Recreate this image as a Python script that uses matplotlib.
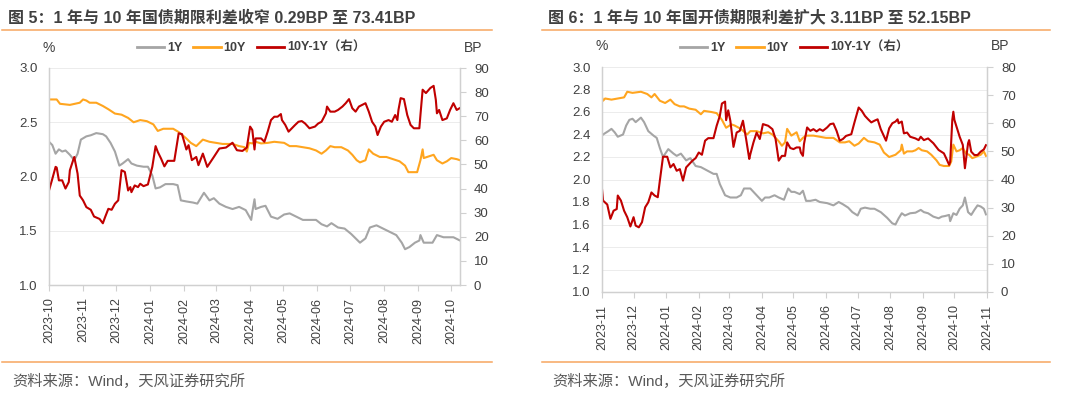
import matplotlib
matplotlib.use("Agg")
import matplotlib.pyplot as plt
import matplotlib.dates as mdates
from matplotlib.lines import Line2D
import pandas as pd

plt.rcParams['font.family'] = ['Liberation Sans', 'Noto Sans CJK SC', 'DejaVu Sans']

# ---------- left panel: 国债 ----------
l_title = "图 5：1 年与 10 年国债期限利差收窄 0.29BP 至 73.41BP"

l_10y_dates = ["2023-10-01", "2023-10-08", "2023-10-11", "2023-10-20", "2023-10-29", "2023-11-01", "2023-11-04",
               "2023-11-07", "2023-11-13", "2023-11-19", "2023-11-24", "2023-11-30", "2023-12-06", "2023-12-12",
               "2023-12-17", "2023-12-23", "2023-12-29", "2024-01-04", "2024-01-08", "2024-01-13", "2024-01-22",
               "2024-01-27", "2024-02-03", "2024-02-07", "2024-02-12", "2024-02-18", "2024-02-24", "2024-03-01",
               "2024-03-07", "2024-03-16", "2024-03-22", "2024-03-27", "2024-03-29", "2024-03-31", "2024-04-03",
               "2024-04-06", "2024-04-11", "2024-04-17", "2024-04-23", "2024-05-02", "2024-05-07", "2024-05-13",
               "2024-05-19", "2024-05-25", "2024-05-31", "2024-06-05", "2024-06-09", "2024-06-13", "2024-06-17",
               "2024-06-23", "2024-06-29", "2024-07-03", "2024-07-07", "2024-07-10", "2024-07-15", "2024-07-18",
               "2024-07-22", "2024-07-28", "2024-08-03", "2024-08-09", "2024-08-15", "2024-08-20", "2024-08-23",
               "2024-08-31", "2024-09-03", "2024-09-05", "2024-09-06", "2024-09-09", "2024-09-15", "2024-09-18",
               "2024-09-23", "2024-09-27", "2024-10-01", "2024-10-06", "2024-10-09"]
l_10y_vals = [2.71, 2.71, 2.67, 2.66, 2.68, 2.71, 2.70,
              2.68, 2.68, 2.65, 2.62, 2.58, 2.57, 2.54,
              2.50, 2.52, 2.51, 2.48, 2.42, 2.44, 2.44,
              2.41, 2.35, 2.31, 2.28, 2.34, 2.32, 2.31,
              2.30, 2.30, 2.28, 2.27, 2.23, 2.31, 2.305,
              2.32, 2.305, 2.31, 2.32, 2.31, 2.28, 2.28,
              2.27, 2.26, 2.24, 2.21, 2.24, 2.28, 2.27,
              2.27, 2.24, 2.20, 2.15, 2.13, 2.15, 2.25,
              2.21, 2.18, 2.18, 2.16, 2.14, 2.10, 2.04,
              2.04, 2.15, 2.25, 2.17, 2.18, 2.20, 2.15,
              2.12, 2.14, 2.17, 2.16, 2.15]

l_1y_dates = ["2023-10-01", "2023-10-04", "2023-10-07", "2023-10-10", "2023-10-13", "2023-10-16", "2023-10-20",
              "2023-10-24", "2023-10-27", "2023-10-30", "2023-11-04", "2023-11-08", "2023-11-13", "2023-11-19",
              "2023-11-22", "2023-11-26", "2023-11-30", "2023-12-04", "2023-12-07", "2023-12-12", "2023-12-15",
              "2023-12-20", "2023-12-26", "2023-12-30", "2024-01-03", "2024-01-06", "2024-01-10", "2024-01-15",
              "2024-01-22", "2024-01-26", "2024-01-29", "2024-02-03", "2024-02-09", "2024-02-13", "2024-02-19",
              "2024-02-24", "2024-02-28", "2024-03-04", "2024-03-10", "2024-03-16", "2024-03-22", "2024-03-28",
              "2024-04-02", "2024-04-03", "2024-04-05", "2024-04-06", "2024-04-11", "2024-04-15", "2024-04-20",
              "2024-04-26", "2024-05-02", "2024-05-07", "2024-05-13", "2024-05-19", "2024-05-25", "2024-05-31",
              "2024-06-05", "2024-06-10", "2024-06-14", "2024-06-20", "2024-06-26", "2024-07-02", "2024-07-06",
              "2024-07-10", "2024-07-15", "2024-07-19", "2024-07-25", "2024-07-31", "2024-08-06", "2024-08-12",
              "2024-08-17", "2024-08-20", "2024-08-24", "2024-08-29", "2024-09-02", "2024-09-03", "2024-09-06",
              "2024-09-14", "2024-09-18", "2024-09-24", "2024-09-29", "2024-10-03", "2024-10-09"]
l_1y_vals = [2.32, 2.29, 2.21, 2.25, 2.23, 2.24, 2.20,
             2.15, 2.21, 2.34, 2.37, 2.38, 2.40, 2.39,
             2.37, 2.31, 2.23, 2.10, 2.12, 2.16, 2.12,
             2.10, 2.09, 2.09, 2.01, 1.89, 1.90, 1.93,
             1.93, 1.92, 1.78, 1.77, 1.76, 1.75, 1.85,
             1.78, 1.80, 1.75, 1.72, 1.70, 1.72, 1.69,
             1.60, 1.67, 1.79, 1.70, 1.72, 1.73, 1.63,
             1.61, 1.65, 1.66, 1.63, 1.60, 1.60, 1.60,
             1.56, 1.54, 1.57, 1.53, 1.52, 1.47, 1.43,
             1.39, 1.43, 1.53, 1.55, 1.52, 1.49, 1.46,
             1.39, 1.33, 1.35, 1.39, 1.41, 1.46, 1.39,
             1.39, 1.46, 1.44, 1.44, 1.44, 1.41]

l_sp_dates = ["2023-10-01", "2023-10-04", "2023-10-07", "2023-10-08", "2023-10-10", "2023-10-13", "2023-10-16",
              "2023-10-19", "2023-10-20", "2023-10-23", "2023-10-24", "2023-10-27", "2023-10-29", "2023-11-01",
              "2023-11-04", "2023-11-08", "2023-11-11", "2023-11-16", "2023-11-19", "2023-11-21", "2023-11-24",
              "2023-11-27", "2023-11-30", "2023-12-03", "2023-12-06", "2023-12-09", "2023-12-12", "2023-12-14",
              "2023-12-15", "2023-12-18", "2023-12-21", "2023-12-23", "2023-12-26", "2023-12-30", "2024-01-03",
              "2024-01-06", "2024-01-08", "2024-01-11", "2024-01-14", "2024-01-17", "2024-01-23", "2024-01-27",
              "2024-01-30", "2024-02-03", "2024-02-05", "2024-02-08", "2024-02-12", "2024-02-14", "2024-02-18",
              "2024-02-22", "2024-02-28", "2024-03-04", "2024-03-10", "2024-03-16", "2024-03-20", "2024-03-25",
              "2024-03-29", "2024-04-01", "2024-04-03", "2024-04-05", "2024-04-06", "2024-04-11", "2024-04-14",
              "2024-04-17", "2024-04-20", "2024-04-23", "2024-04-26", "2024-04-29", "2024-04-30", "2024-05-03",
              "2024-05-06", "2024-05-09", "2024-05-12", "2024-05-15", "2024-05-18", "2024-05-21", "2024-05-25",
              "2024-05-30", "2024-06-02", "2024-06-05", "2024-06-09", "2024-06-10", "2024-06-13", "2024-06-17",
              "2024-06-20", "2024-06-24", "2024-06-27", "2024-06-30", "2024-07-03", "2024-07-06", "2024-07-09",
              "2024-07-12", "2024-07-15", "2024-07-18", "2024-07-21", "2024-07-24", "2024-07-26", "2024-07-29",
              "2024-08-01", "2024-08-05", "2024-08-08", "2024-08-11", "2024-08-13", "2024-08-14", "2024-08-16",
              "2024-08-19", "2024-08-22", "2024-08-25", "2024-08-28", "2024-09-02", "2024-09-03", "2024-09-05",
              "2024-09-08", "2024-09-12", "2024-09-15", "2024-09-17", "2024-09-18", "2024-09-20", "2024-09-23",
              "2024-09-27", "2024-09-30", "2024-10-03", "2024-10-06", "2024-10-09"]
l_sp_vals = [39.2, 44.0, 49.0, 48.7, 43.4, 43.4, 40.0,
             42.7, 47.6, 51.8, 53.1, 46.2, 37.1, 35.1,
             32.3, 31.2, 28.4, 27.4, 25.6, 28.1, 31.6,
             31.2, 33.7, 35.1, 47.6, 46.9, 39.2, 40.6,
             38.5, 41.3, 40.6, 42.0, 41.0, 41.7, 49.0,
             57.6, 55.2, 52.4, 49.2, 51.5, 51.5, 62.9,
             62.6, 56.2, 58.0, 51.8, 53.1, 49.7, 54.5,
             49.0, 53.1, 56.6, 57.0, 59.0, 55.9, 55.6,
             57.0, 65.7, 64.3, 56.2, 60.8, 60.8, 59.4,
             63.6, 68.4, 69.8, 69.8, 70.9, 68.4, 66.4,
             63.6, 65.0, 66.4, 67.7, 68.0, 67.0, 65.0,
             65.7, 67.0, 67.7, 71.2, 74.0, 71.9, 71.9,
             72.6, 74.0, 75.4, 77.1, 73.3, 71.9, 74.0,
             74.7, 75.4, 71.9, 67.7, 65.7, 62.2, 65.7,
             67.7, 68.4, 67.7, 70.5, 68.4, 72.6, 77.5,
             77.1, 70.5, 66.4, 65.0, 65.0, 70.5, 81.0,
             79.6, 81.7, 82.6, 76.8, 71.2, 72.6, 68.4,
             69.1, 72.6, 75.4, 72.6, 73.4]

# ---------- right panel: 国开债 ----------
r_title = "图 6：1 年与 10 年国开债期限利差扩大 3.11BP 至 52.15BP"

r_10y_dates = ["2023-11-01", "2023-11-02", "2023-11-04", "2023-11-10", "2023-11-16", "2023-11-22", "2023-11-25",
               "2023-11-30", "2023-12-08", "2023-12-14", "2023-12-18", "2023-12-21", "2023-12-26", "2023-12-31",
               "2024-01-05", "2024-01-09", "2024-01-14", "2024-01-18", "2024-01-23", "2024-01-29", "2024-02-03",
               "2024-02-06", "2024-02-13", "2024-02-18", "2024-02-23", "2024-02-27", "2024-03-03", "2024-03-06",
               "2024-03-12", "2024-03-18", "2024-03-21", "2024-03-27", "2024-04-02", "2024-04-07", "2024-04-11",
               "2024-04-17", "2024-04-20", "2024-04-23", "2024-04-25", "2024-04-29", "2024-05-04", "2024-05-07",
               "2024-05-10", "2024-05-13", "2024-05-20", "2024-05-26", "2024-06-01", "2024-06-08", "2024-06-14",
               "2024-06-19", "2024-06-23", "2024-06-28", "2024-07-02", "2024-07-07", "2024-07-11", "2024-07-17",
               "2024-07-22", "2024-07-26", "2024-07-31", "2024-08-03", "2024-08-06", "2024-08-11", "2024-08-12",
               "2024-08-14", "2024-08-17", "2024-08-22", "2024-08-25", "2024-08-28", "2024-08-31", "2024-09-05",
               "2024-09-09", "2024-09-14", "2024-09-17", "2024-09-21", "2024-09-26", "2024-09-28", "2024-09-30",
               "2024-10-03", "2024-10-06", "2024-10-09", "2024-10-12", "2024-10-15", "2024-10-18", "2024-10-21",
               "2024-10-26", "2024-10-29", "2024-10-31"]
r_10y_vals = [2.73, 2.70, 2.72, 2.71, 2.72, 2.73, 2.78,
              2.77, 2.78, 2.76, 2.73, 2.76, 2.70, 2.68,
              2.71, 2.67, 2.65, 2.65, 2.63, 2.62, 2.58,
              2.61, 2.60, 2.59, 2.53, 2.46, 2.49, 2.48,
              2.45, 2.40, 2.43, 2.43, 2.41, 2.42, 2.40,
              2.34, 2.30, 2.33, 2.45, 2.39, 2.42, 2.34,
              2.37, 2.39, 2.39, 2.38, 2.37, 2.37, 2.33,
              2.33, 2.34, 2.30, 2.32, 2.37, 2.34, 2.33,
              2.31, 2.24, 2.20, 2.21, 2.22, 2.26, 2.31,
              2.23, 2.25, 2.25, 2.26, 2.28, 2.26, 2.25,
              2.22, 2.17, 2.13, 2.12, 2.12, 2.16, 2.31,
              2.25, 2.26, 2.28, 2.23, 2.22, 2.19, 2.20,
              2.22, 2.25, 2.21]

r_1y_dates = ["2023-11-01", "2023-11-02", "2023-11-07", "2023-11-10", "2023-11-13", "2023-11-16", "2023-11-21",
              "2023-11-24", "2023-11-27", "2023-11-30", "2023-12-03", "2023-12-08", "2023-12-11", "2023-12-15",
              "2023-12-20", "2023-12-23", "2023-12-26", "2023-12-29", "2024-01-03", "2024-01-08", "2024-01-11",
              "2024-01-15", "2024-01-20", "2024-01-24", "2024-01-29", "2024-02-03", "2024-02-09", "2024-02-15",
              "2024-02-18", "2024-02-21", "2024-02-26", "2024-03-02", "2024-03-08", "2024-03-12", "2024-03-15",
              "2024-03-21", "2024-03-24", "2024-03-27", "2024-04-01", "2024-04-04", "2024-04-08", "2024-04-13",
              "2024-04-17", "2024-04-22", "2024-04-26", "2024-04-29", "2024-05-02", "2024-05-07", "2024-05-10",
              "2024-05-13", "2024-05-17", "2024-05-22", "2024-05-26", "2024-06-02", "2024-06-08", "2024-06-13",
              "2024-06-17", "2024-06-22", "2024-06-26", "2024-07-01", "2024-07-04", "2024-07-08", "2024-07-13",
              "2024-07-17", "2024-07-23", "2024-07-29", "2024-08-03", "2024-08-06", "2024-08-09", "2024-08-12",
              "2024-08-15", "2024-08-20", "2024-08-25", "2024-08-30", "2024-09-02", "2024-09-06", "2024-09-11",
              "2024-09-16", "2024-09-19", "2024-09-22", "2024-09-26", "2024-09-27", "2024-09-30", "2024-10-03",
              "2024-10-06", "2024-10-09", "2024-10-11", "2024-10-14", "2024-10-17", "2024-10-20", "2024-10-23",
              "2024-10-26", "2024-10-29", "2024-10-31"]
r_1y_vals = [2.39, 2.40, 2.43, 2.45, 2.42, 2.38, 2.40,
             2.48, 2.53, 2.54, 2.51, 2.55, 2.51, 2.43,
             2.39, 2.37, 2.28, 2.20, 2.27, 2.23, 2.21,
             2.23, 2.17, 2.19, 2.12, 2.11, 2.08, 2.05,
             2.05, 1.96, 1.86, 1.84, 1.84, 1.86, 1.92,
             1.92, 1.89, 1.86, 1.81, 1.84, 1.84, 1.86,
             1.84, 1.82, 1.92, 1.89, 1.89, 1.87, 1.90,
             1.81, 1.81, 1.82, 1.80, 1.79, 1.77, 1.80,
             1.78, 1.75, 1.71, 1.68, 1.74, 1.75, 1.74,
             1.74, 1.71, 1.66, 1.61, 1.60, 1.655, 1.70,
             1.68, 1.70, 1.705, 1.73, 1.71, 1.70, 1.67,
             1.655, 1.67, 1.675, 1.685, 1.63, 1.70, 1.685,
             1.74, 1.77, 1.84, 1.71, 1.685, 1.73, 1.77,
             1.76, 1.74, 1.69]

r_sp_dates = ["2023-11-01", "2023-11-02", "2023-11-06", "2023-11-09", "2023-11-12", "2023-11-15", "2023-11-16",
              "2023-11-19", "2023-11-22", "2023-11-25", "2023-11-28", "2023-12-01", "2023-12-03", "2023-12-06",
              "2023-12-09", "2023-12-12", "2023-12-15", "2023-12-18", "2023-12-21", "2023-12-24", "2023-12-26",
              "2023-12-29", "2024-01-02", "2024-01-05", "2024-01-08", "2024-01-11", "2024-01-14", "2024-01-17",
              "2024-01-20", "2024-01-23", "2024-01-26", "2024-01-29", "2024-02-01", "2024-02-04", "2024-02-07",
              "2024-02-10", "2024-02-15", "2024-02-18", "2024-02-21", "2024-02-23", "2024-02-26", "2024-02-27",
              "2024-02-29", "2024-03-02", "2024-03-05", "2024-03-08", "2024-03-11", "2024-03-14", "2024-03-17",
              "2024-03-20", "2024-03-21", "2024-03-24", "2024-03-27", "2024-03-30", "2024-04-02", "2024-04-07",
              "2024-04-11", "2024-04-14", "2024-04-17", "2024-04-20", "2024-04-23", "2024-04-25", "2024-04-28",
              "2024-05-01", "2024-05-04", "2024-05-07", "2024-05-08", "2024-05-10", "2024-05-11", "2024-05-14",
              "2024-05-17", "2024-05-20", "2024-05-23", "2024-05-26", "2024-05-29", "2024-06-02", "2024-06-05",
              "2024-06-08", "2024-06-11", "2024-06-14", "2024-06-17", "2024-06-20", "2024-06-25", "2024-06-28",
              "2024-07-02", "2024-07-05", "2024-07-08", "2024-07-11", "2024-07-14", "2024-07-17", "2024-07-20",
              "2024-07-23", "2024-07-28", "2024-07-31", "2024-08-03", "2024-08-06", "2024-08-08", "2024-08-09",
              "2024-08-12", "2024-08-14", "2024-08-17", "2024-08-20", "2024-08-25", "2024-08-28", "2024-08-30",
              "2024-09-02", "2024-09-06", "2024-09-11", "2024-09-16", "2024-09-21", "2024-09-24", "2024-09-26",
              "2024-09-27", "2024-09-29", "2024-09-30", "2024-10-01", "2024-10-06", "2024-10-09", "2024-10-11",
              "2024-10-14", "2024-10-15", "2024-10-17", "2024-10-20", "2024-10-23", "2024-10-26", "2024-10-29",
              "2024-10-31"]
r_sp_vals = [36.6, 32.5, 31.1, 26.0, 28.9, 29.5, 34.3,
             32.5, 28.9, 26.6, 23.3, 26.6, 23.6, 23.0,
             24.8, 30.1, 31.9, 35.4, 34.3, 33.7, 39.6,
             48.1, 48.1, 44.3, 45.5, 43.1, 43.7, 39.6,
             44.3, 45.5, 46.7, 47.6, 49.6, 48.8, 53.8,
             54.7, 54.7, 59.1, 62.6, 67.0, 67.7, 61.1,
             64.6, 60.9, 51.6, 56.7, 57.3, 60.9, 54.4,
             47.3, 49.0, 53.2, 56.7, 54.4, 59.7, 59.1,
             57.9, 54.4, 46.7, 48.4, 48.4, 53.2, 51.2,
             50.8, 51.4, 51.4, 49.6, 48.4, 52.6, 58.5,
             57.3, 57.9, 57.1, 57.9, 57.3, 58.5, 59.7,
             59.9, 57.3, 53.8, 54.4, 55.5, 56.1, 60.3,
             65.6, 64.4, 62.6, 61.4, 60.3, 60.9, 61.4,
             57.9, 53.8, 58.2, 60.0, 60.6, 61.4, 60.0,
             60.6, 56.4, 56.7, 55.2, 54.6, 54.0, 55.2,
             54.0, 54.6, 52.9, 50.5, 49.3, 46.9, 45.2,
             46.3, 61.2, 64.1, 61.2, 55.2, 52.3, 44.0,
             52.9, 54.0, 49.9, 48.7, 48.7, 49.9, 50.7,
             52.2]

source_text = "资料来源：Wind，天风证券研究所"
legend_labels = ["1Y", "10Y", "10Y-1Y（右）"]

GRAY = "#a5a5a5"
ORANGE = "#ffa51f"
RED = "#c00000"
AXIS = "#d0d0d0"
TXT = "#404040"
RULE = "#f6a55f"


def drawPanel(fig, rect, d1, v1, d10, v10, dsp, vsp, left_ticks, right_ticks, tick_start, tick_end):
    ax = fig.add_axes(rect)
    ax.plot(pd.to_datetime(d1), v1, color=GRAY, lw=1.5)
    ax.plot(pd.to_datetime(d10), v10, color=ORANGE, lw=1.5)
    ax2 = ax.twinx()
    ax2.plot(pd.to_datetime(dsp), vsp, color=RED, lw=1.5)

    ax.set_ylim(left_ticks[0], left_ticks[-1])
    ax.set_yticks(left_ticks)
    ax.set_yticklabels([f"{t:.1f}" for t in left_ticks])
    ax2.set_ylim(right_ticks[0], right_ticks[-1])
    ax2.set_yticks(right_ticks)
    ax.grid(axis="y", color="#ececec", lw=0.7)
    ax.set_axisbelow(True)

    ax.set_xlim(pd.to_datetime(d1[0]), pd.to_datetime(d1[-1]))
    ax.set_xticks(pd.date_range(tick_start, tick_end, freq="MS"))
    ax.xaxis.set_major_formatter(mdates.DateFormatter("%Y-%m"))
    ax.tick_params(axis="x", rotation=90, labelsize=9, colors=TXT, length=4, color=AXIS, pad=5)
    ax.tick_params(axis="y", labelsize=9.5, colors=TXT, length=0, pad=8)
    ax2.tick_params(axis="y", labelsize=9.5, colors=TXT, length=4, color=AXIS, pad=6)

    for a in (ax, ax2):
        a.spines["top"].set_visible(False)
        for s in ("left", "right", "bottom"):
            a.spines[s].set_color(AXIS)
            a.spines[s].set_linewidth(0.9)

    ax.text(0.0, 1.06, "%", transform=ax.transAxes, ha="center", va="bottom", fontsize=10, color=TXT)
    ax.text(1.01, 1.06, "BP", transform=ax.transAxes, ha="left", va="bottom", fontsize=10, color=TXT)
    return ax


fig = plt.figure(figsize=(10.8, 3.99), dpi=100)

drawPanel(fig, [49 / 1080, 1 - 285 / 399, 411 / 1080, 217 / 399],
          l_1y_dates, l_1y_vals, l_10y_dates, l_10y_vals, l_sp_dates, l_sp_vals,
          [1.0, 1.5, 2.0, 2.5, 3.0], list(range(0, 91, 10)), "2023-10-01", "2024-10-01")
drawPanel(fig, [602 / 1080, 1 - 292 / 399, 385 / 1080, 225 / 399],
          r_1y_dates, r_1y_vals, r_10y_dates, r_10y_vals, r_sp_dates, r_sp_vals,
          [1.0, 1.2, 1.4, 1.6, 1.8, 2.0, 2.2, 2.4, 2.6, 2.8, 3.0], list(range(0, 81, 10)),
          "2023-11-01", "2024-11-01")

handles = [Line2D([], [], color=c, lw=2) for c in (GRAY, ORANGE, RED)]
for cx in (251 / 1080, 794 / 1080):
    fig.legend(handles, legend_labels, loc="center", bbox_to_anchor=(cx, 1 - 48 / 399), ncol=3,
               frameon=False, handlelength=2.2, handletextpad=0.2, columnspacing=0.9,
               prop={"weight": "bold", "size": 9}, labelcolor=TXT)

# titles, rules and sources
for x0, x1, tx, title in ((2, 492, 8, l_title), (542, 1050, 548, r_title)):
    fig.text(tx / 1080, 1 - 18 / 399, title, ha="left", va="center", fontsize=11.5, fontweight="bold", color=TXT)
    for yy in (30, 362):
        fig.add_artist(Line2D([x0 / 1080, x1 / 1080], [1 - yy / 399, 1 - yy / 399], color=RULE, lw=1.1))
    fig.text((tx + 4) / 1080, 1 - 381 / 399, source_text, ha="left", va="center", fontsize=11, color="#595959")

fig.savefig("out.png", dpi=100)
